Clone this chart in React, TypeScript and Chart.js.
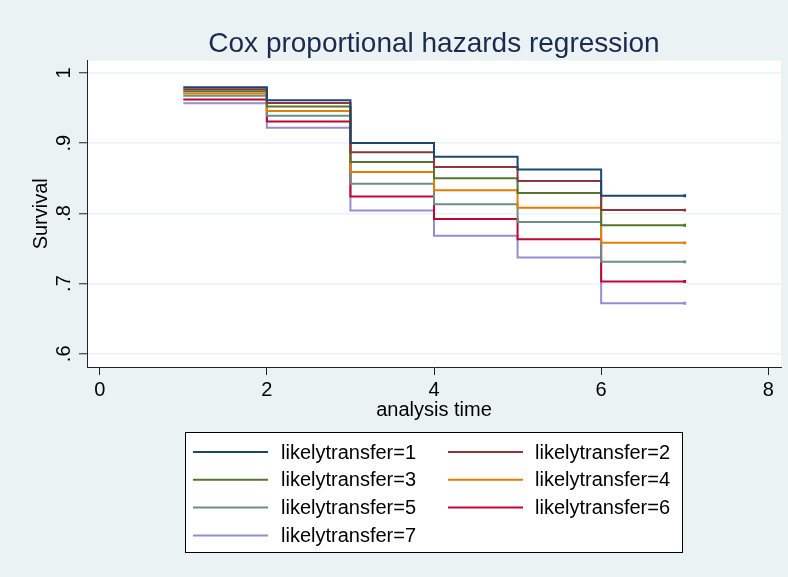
import React, { useEffect, useRef } from "react";
import { Chart, registerables } from "chart.js";

Chart.register(...registerables);

const times = [1, 2, 3, 4, 5, 6, 7];
const seriesLabels = [
  "likelytransfer=1",
  "likelytransfer=2",
  "likelytransfer=3",
  "likelytransfer=4",
  "likelytransfer=5",
  "likelytransfer=6",
  "likelytransfer=7",
];
const g1 = [0.9795, 0.961, 0.9, 0.8805, 0.8625, 0.825, 0.825];
const g2 = [0.9767, 0.9573, 0.887, 0.866, 0.846, 0.8046, 0.8046];
const g3 = [0.9738, 0.9521, 0.873, 0.85, 0.829, 0.783, 0.783];
const g4 = [0.9706, 0.9459, 0.859, 0.833, 0.808, 0.758, 0.758];
const g5 = [0.9673, 0.9388, 0.842, 0.813, 0.7875, 0.731, 0.731];
const g6 = [0.962, 0.9307, 0.824, 0.792, 0.763, 0.703, 0.703];
const g7 = [0.9568, 0.9218, 0.804, 0.768, 0.737, 0.672, 0.672];
const seriesValues = [g1, g2, g3, g4, g5, g6, g7];
const seriesColors = ["#1a476f", "#90353b", "#55752f", "#e37e00", "#6e8e84", "#c10534", "#938dd2"];

const yTickValues = [0.6, 0.7, 0.8, 0.9, 1];
const yTickLabels = [".6", ".7", ".8", ".9", "1"];
const xTickValues = [0, 2, 4, 6, 8];
const xTickLabels = ["0", "2", "4", "6", "8"];

const FONT = "'Liberation Sans', Arial, Helvetica, sans-serif";
const BG = "#eaf2f3";

const backgroundPlugin = {
  id: "bgPlugin",
  beforeDraw(chart: any) {
    const { ctx, chartArea } = chart;
    ctx.save();
    ctx.fillStyle = BG;
    ctx.fillRect(0, 0, chart.width, chart.height);
    ctx.fillStyle = "#ffffff";
    ctx.fillRect(chartArea.left, chartArea.top, chartArea.right - chartArea.left, chartArea.bottom - chartArea.top);
    ctx.restore();
  },
};

const legendPlugin = {
  id: "boxLegend",
  afterDraw(chart: any) {
    const { ctx } = chart;
    const bx = 185, by = 432, bw = 498, bh = 121;
    ctx.save();
    ctx.fillStyle = "#ffffff";
    ctx.fillRect(bx, by, bw, bh);
    ctx.strokeStyle = "#000000";
    ctx.lineWidth = 1;
    ctx.strokeRect(bx + 0.5, by + 0.5, bw - 1, bh - 1);
    ctx.font = `20px ${FONT}`;
    ctx.textBaseline = "middle";
    ctx.textAlign = "left";
    chart.data.datasets.forEach((ds: any, i: number) => {
      const col = i % 2;
      const row = Math.floor(i / 2);
      const lx = col === 0 ? 193 : 448;
      const tx = col === 0 ? 281 : 535;
      const y = 452 + row * 27.8;
      ctx.strokeStyle = ds.borderColor;
      ctx.lineWidth = 2;
      ctx.beginPath();
      ctx.moveTo(lx, y);
      ctx.lineTo(lx + 75, y);
      ctx.stroke();
      ctx.fillStyle = "#000000";
      ctx.fillText(ds.label, tx, y + 1);
    });
    ctx.restore();
  },
};

export default function App() {
  const ref = useRef<HTMLCanvasElement>(null);
  useEffect(() => {
    if (!ref.current) return;
    const datasets = seriesValues.map((vals, i) => ({
      label: seriesLabels[i],
      data: times.map((t, j) => ({ x: t, y: vals[j] })),
      borderColor: seriesColors[i],
      backgroundColor: seriesColors[i],
      borderWidth: 2,
      stepped: "before" as const,
      pointRadius: times.map((_, j) => (j === times.length - 1 ? 2 : 0)),
      pointStyle: "rect" as const,
      pointBorderWidth: 0,
      fill: false,
    }));
    const chart = new Chart(ref.current, {
      type: "line",
      data: { datasets },
      plugins: [backgroundPlugin, legendPlugin],
      options: {
        animation: false,
        responsive: false,
        devicePixelRatio: 1,
        layout: { padding: { left: 0, right: 7, top: 0, bottom: 150 } },
        plugins: {
          legend: { display: false },
          tooltip: { enabled: false },
          title: {
            display: true,
            fullSize: false,
            text: "Cox proportional hazards regression",
            color: "#1c2a4f",
            font: { family: FONT, size: 28, weight: "normal" },
            padding: { top: 27, bottom: 0 },
          },
        },
        scales: {
          x: {
            type: "linear",
            min: -0.152,
            max: 8.152,
            afterFit(axis: any) {
              axis.height = 60;
            },
            afterBuildTicks(axis: any) {
              axis.ticks = xTickValues.map((v) => ({ value: v }));
            },
            ticks: {
              callback: (v: any) => xTickLabels[xTickValues.indexOf(Number(v))] ?? "",
              color: "#000",
              font: { family: FONT, size: 20 },
              padding: 3,
              maxRotation: 0,
              minRotation: 0,
              autoSkip: false,
            },
            grid: { drawOnChartArea: false, tickLength: 8, tickColor: "#222", tickWidth: 1 },
            border: { display: true, color: "#222", width: 1 },
            title: {
              display: true,
              text: "analysis time",
              color: "#000",
              font: { family: FONT, size: 20 },
              padding: { top: 0, bottom: 5 },
            },
          },
          y: {
            type: "linear",
            min: 0.5812,
            max: 1.0175,
            afterFit(axis: any) {
              axis.width = 87;
            },
            afterBuildTicks(axis: any) {
              axis.ticks = yTickValues.map((v) => ({ value: v }));
            },
            ticks: {
              callback: (v: any) => {
                const idx = yTickValues.findIndex((t) => Math.abs(t - Number(v)) < 1e-6);
                return idx >= 0 ? yTickLabels[idx] : "";
              },
              color: "#000",
              font: { family: FONT, size: 20 },
              minRotation: 90,
              maxRotation: 90,
              crossAlign: "center",
              padding: 6,
              autoSkip: false,
            },
            grid: {
              color: BG,
              lineWidth: 1.5,
              tickLength: 8,
              tickColor: "#222",
              tickWidth: 1,
            },
            border: { display: true, color: "#222", width: 1 },
            title: {
              display: true,
              text: "Survival",
              color: "#000",
              font: { family: FONT, size: 20 },
              padding: { top: 29.5, bottom: 0 },
            },
          },
        },
      } as any,
    });
    return () => chart.destroy();
  }, []);
  return (
    <div style={{ position: "absolute", left: 0, top: 0, width: 788, height: 577, background: BG }}>
      <canvas ref={ref} width={788} height={577} style={{ display: "block", width: 788, height: 577 }} />
    </div>
  );
}
